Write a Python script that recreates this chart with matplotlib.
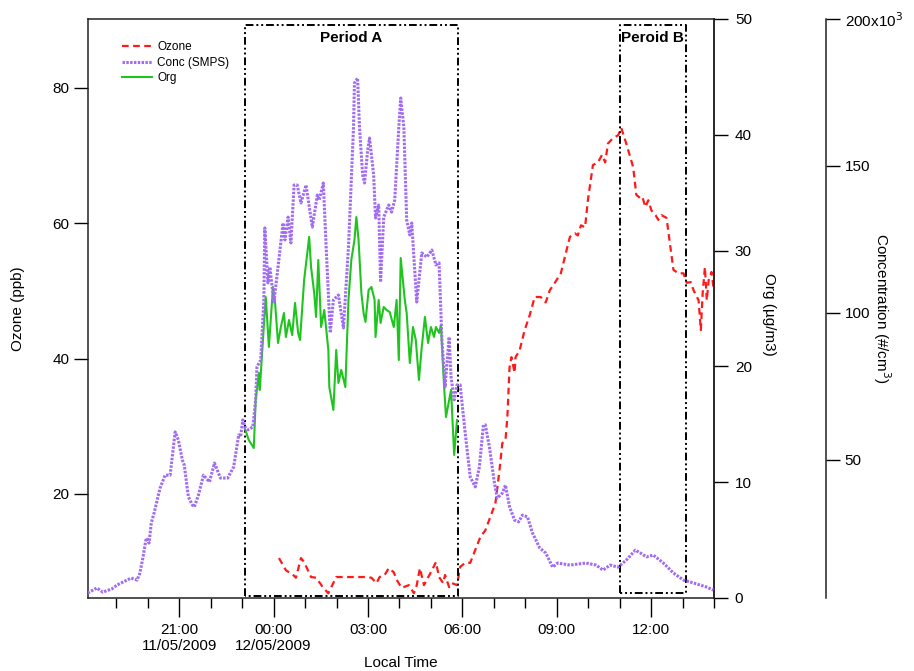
import numpy as np
import matplotlib
matplotlib.use("Agg")
import matplotlib.pyplot as plt
from matplotlib.ticker import FixedLocator, FuncFormatter

plt.rcParams['font.family'] = ['Liberation Sans', 'DejaVu Sans']

# time in hours after 00:00 on 11/05/2009
conc_t = [18.09, 18.38, 18.57, 18.86, 19.02, 19.21, 19.47, 19.66, 19.75, 19.85,
          19.95, 20.04, 20.11, 20.20, 20.30, 20.39, 20.55, 20.71, 20.87, 20.97,
          21.10, 21.16, 21.29, 21.42, 21.48, 21.61, 21.77, 21.96, 22.12, 22.31,
          22.54, 22.73, 22.89, 22.95, 23.02, 23.11, 23.18, 23.34, 23.43, 23.47,
          23.59, 23.69, 23.72, 23.82, 23.88, 24.01, 24.14, 24.30, 24.36, 24.46,
          24.55, 24.65, 24.75, 24.87, 25.03, 25.23, 25.39, 25.45, 25.58, 25.67,
          25.80, 25.90, 26.06, 26.22, 26.38, 26.54, 26.57, 26.67, 26.73, 26.83,
          26.89, 26.99, 27.05, 27.18, 27.24, 27.34, 27.40, 27.50, 27.66, 27.75,
          27.85, 27.98, 28.04, 28.14, 28.23, 28.33, 28.39, 28.55, 28.71, 28.87,
          29.03, 29.16, 29.26, 29.35, 29.45, 29.58, 29.64, 29.74, 29.83, 29.93,
          30.09, 30.25, 30.41, 30.54, 30.67, 30.73, 30.86, 31.02, 31.11, 31.27,
          31.37, 31.50, 31.66, 31.79, 31.91, 32.07, 32.23, 32.46, 32.65, 32.87,
          33.03, 33.42, 33.93, 34.25, 34.47, 34.70, 34.95, 35.21, 35.50, 35.66,
          35.85, 36.07, 36.39, 36.71, 37.03, 37.35, 37.77, 37.98]
conc = [4.7, 6.4, 5.0, 6.1, 7.4, 8.4, 9.8, 9.1, 11.5, 17.0,
        23.4, 21.7, 28.5, 31.9, 36.3, 40.4, 44.8, 44.8, 59.5, 56.8,
        49.9, 48.2, 37.4, 34.6, 34.0, 38.0, 44.8, 42.5, 48.9, 43.8,
        43.8, 47.6, 58.5, 57.8, 63.6, 60.8, 60.2, 61.2, 70.4, 81.6,
        84.0, 104.4, 128.9, 110.2, 115.6, 103.7, 115.6, 130.6, 124.8, 132.6,
        123.8, 143.5, 143.5, 137.4, 143.5, 129.2, 140.1, 138.4, 144.2, 122.4,
        93.2, 104.4, 106.1, 94.9, 122.4, 163.2, 178.2, 179.9, 163.2, 146.9,
        144.2, 155.4, 159.5, 146.9, 132.3, 136.7, 110.5, 132.6, 136.7, 134.3,
        138.4, 163.2, 173.1, 163.2, 131.6, 126.5, 130.6, 103.7, 120.4, 119.0,
        121.4, 116.3, 117.0, 90.8, 74.8, 91.8, 78.2, 70.4, 75.5, 75.5,
        59.1, 44.2, 40.8, 47.6, 61.9, 61.9, 54.4, 42.1, 37.0, 38.7,
        41.4, 34.0, 29.5, 28.9, 31.2, 30.6, 25.1, 20.0, 18.3, 13.5,
        14.9, 14.2, 14.9, 14.2, 12.5, 14.2, 13.5, 15.9, 19.3, 18.3,
        17.0, 17.6, 14.9, 11.5, 9.1, 8.1, 6.7, 5.7]

org_t = [23.08, 23.21, 23.37, 23.43, 23.53, 23.56, 23.66, 23.75, 23.85, 23.98,
         24.04, 24.14, 24.23, 24.33, 24.39, 24.49, 24.59, 24.68, 24.78, 24.84,
         24.97, 25.13, 25.19, 25.29, 25.35, 25.42, 25.51, 25.61, 25.74, 25.77,
         25.90, 25.99, 26.06, 26.15, 26.28, 26.38, 26.47, 26.57, 26.63, 26.70,
         26.79, 26.86, 26.92, 27.02, 27.11, 27.21, 27.24, 27.34, 27.40, 27.50,
         27.59, 27.69, 27.82, 27.91, 27.98, 28.04, 28.17, 28.23, 28.33, 28.43,
         28.52, 28.62, 28.71, 28.81, 28.91, 29.00, 29.10, 29.16, 29.26, 29.32,
         29.42, 29.48, 29.58, 29.64, 29.74, 29.83]
org = [14.68, 13.64, 12.95, 17.10, 19.43, 17.96, 22.28, 25.99, 21.68, 26.86,
       25.74, 22.02, 23.40, 24.61, 22.54, 24.01, 22.71, 25.48, 22.89, 22.28,
       27.46, 31.18, 28.59, 26.34, 24.27, 29.19, 23.40, 24.87, 21.42, 18.22,
       16.24, 21.42, 18.57, 19.69, 18.22, 25.74, 29.19, 30.92, 32.90, 30.92,
       26.34, 24.61, 23.84, 26.60, 26.86, 25.74, 22.54, 25.74, 23.75, 25.13,
       24.87, 24.70, 23.40, 25.74, 20.55, 29.36, 25.74, 24.61, 20.29, 23.40,
       22.28, 18.83, 21.68, 24.27, 22.02, 23.40, 22.54, 23.40, 22.89, 23.58,
       18.22, 15.63, 17.10, 17.96, 12.35, 15.37]

ozone_t = [24.17, 24.39, 24.62, 24.71, 24.87, 24.97, 25.19, 25.35, 25.58, 25.74,
           25.99, 26.25, 26.57, 26.89, 27.11, 27.27, 27.37, 27.53, 27.66, 27.82,
           27.91, 28.07, 28.30, 28.46, 28.55, 28.65, 28.78, 28.87, 29.00, 29.16,
           29.26, 29.39, 29.45, 29.58, 29.67, 29.83, 29.93, 30.09, 30.25, 30.41,
           30.57, 30.73, 30.89, 31.05, 31.18, 31.27, 31.37, 31.43, 31.50, 31.56,
           31.66, 31.69, 31.82, 31.98, 32.14, 32.30, 32.49, 32.65, 32.78, 32.94,
           33.13, 33.29, 33.42, 33.58, 33.67, 33.77, 33.90, 33.99, 34.15, 34.31,
           34.44, 34.54, 34.63, 34.79, 34.95, 35.05, 35.21, 35.43, 35.53, 35.66,
           35.72, 35.82, 35.91, 36.01, 36.14, 36.23, 36.33, 36.49, 36.71, 36.87,
           37.03, 37.13, 37.26, 37.35, 37.51, 37.58, 37.64, 37.71, 37.77, 37.83,
           37.92, 37.98]
ozone = [10.5, 8.7, 8.0, 7.6, 10.5, 9.9, 7.7, 7.6, 6.1, 5.3,
         7.7, 7.7, 7.7, 7.7, 7.6, 6.8, 7.7, 8.0, 9.0, 8.4,
         7.3, 6.1, 6.5, 5.3, 6.5, 9.0, 6.5, 7.3, 8.4, 9.9,
         7.7, 6.8, 8.0, 6.2, 6.8, 6.5, 9.2, 9.8, 9.8, 11.7,
         13.6, 14.6, 16.6, 18.6, 23.5, 27.5, 27.9, 31.3, 38.7, 40.2,
         37.9, 40.2, 41.2, 44.2, 46.4, 49.1, 49.1, 48.3, 50.1, 51.2,
         52.6, 55.6, 58.0, 58.5, 58.2, 59.7, 59.4, 63.4, 68.6, 69.0,
         70.1, 69.0, 71.8, 72.6, 73.0, 74.1, 71.8, 68.3, 64.2, 63.7,
         63.9, 62.4, 63.4, 61.9, 61.2, 60.5, 61.2, 60.8, 53.1, 52.6,
         52.6, 51.2, 51.3, 50.1, 48.6, 44.2, 49.7, 53.5, 48.6, 51.6,
         52.8, 50.6]

periods = [("Period A", 23.08, 29.86), ("Peroid B", 35.0, 37.1)]
major_hours = [21, 24, 27, 30, 33, 36]
major_labels = ["21:00\n11/05/2009", "00:00\n12/05/2009", "03:00", "06:00", "09:00", "12:00"]

fig = plt.figure(figsize=(9.14, 6.71), dpi=100)
ax1 = fig.add_axes([0.0963, 0.1088, 0.6849, 0.8629])
ax2 = ax1.twinx()
ax3 = ax1.twinx()
ax3.spines['right'].set_position(('axes', 1.179))

l1, = ax1.plot(ozone_t, ozone, color='#ff1a1a', lw=1.6, ls=(0, (3, 2)), label='Ozone')
l2, = ax3.plot(conc_t, conc, color='#a06cf2', lw=2.2, ls=(0, (0.8, 0.45)), label='Conc (SMPS)')
l3, = ax2.plot(org_t, org, color='#1fc41f', lw=1.5, label='Org')

ax1.set_xlim(18.1, 38.0)
ax1.set_ylim(4.6, 90.2)
ax2.set_ylim(0, 50)
ax3.set_ylim(3, 200)

# period boxes
trans = ax1.get_xaxis_transform()
for name, t0, t1 in periods:
    ybot = 0.003 if name == "Period A" else 0.009
    ax1.plot([t0, t0, t1, t1, t0], [ybot, 0.99, 0.99, ybot, ybot], transform=trans,
             color='black', lw=1.4, ls=(0, (4, 1.5, 1, 1.5, 1, 1.5)), clip_on=False)
    ax1.text((t0 + t1) / 2, 0.967, name, transform=trans, ha='center', va='center',
             fontsize=11, fontweight='bold')

# x axis
ax1.xaxis.set_major_locator(FixedLocator(major_hours))
ax1.xaxis.set_minor_locator(FixedLocator(range(19, 39)))
ax1.set_xticklabels(major_labels)
ax1.tick_params(axis='x', which='major', length=14, width=1, labelsize=11, pad=4)
ax1.tick_params(axis='x', which='minor', length=7, width=1)
ax1.set_xlabel('Local Time', fontsize=11, labelpad=2)

# y axes
ax1.set_yticks([20, 40, 60, 80])
ax1.tick_params(axis='y', length=10, width=1, labelsize=11)
ax1.set_ylabel('Ozone (ppb)', fontsize=11, va='center')
ax1.yaxis.set_label_coords(-0.112, 0.5)

ax2.set_yticks([0, 10, 20, 30, 40, 50])
ax2.tick_params(axis='y', length=10, width=1, labelsize=11, pad=5)
ax2.set_ylabel('Org (µg/m3)', fontsize=11, rotation=270, va='center')
ax2.yaxis.set_label_coords(1.088, 0.49)

ax3.set_yticks([50, 100, 150, 200])
ax3.yaxis.set_major_formatter(FuncFormatter(
    lambda v, p: '200x10$^{3}$' if v == 200 else '%d' % v))
ax3.tick_params(axis='y', length=10, width=1, labelsize=11)
ax3.set_ylabel('Concentration (#/cm$^{3}$)', fontsize=11, rotation=270, va='center')
ax3.yaxis.set_label_coords(1.268, 0.5)
for s in ['top', 'bottom', 'left']:
    ax3.spines[s].set_visible(False)
    ax2.spines[s].set_visible(False)

for ax in (ax1, ax2, ax3):
    for s in ax.spines.values():
        s.set_linewidth(1.1)
        s.set_color('#222222')

ax1.legend(handles=[l1, l2, l3], loc='upper left', bbox_to_anchor=(0.037, 0.98),
           frameon=False, fontsize=8.5, handlelength=2.6, labelspacing=0.3,
           handletextpad=0.4)

fig.savefig('out.png', dpi=100)
